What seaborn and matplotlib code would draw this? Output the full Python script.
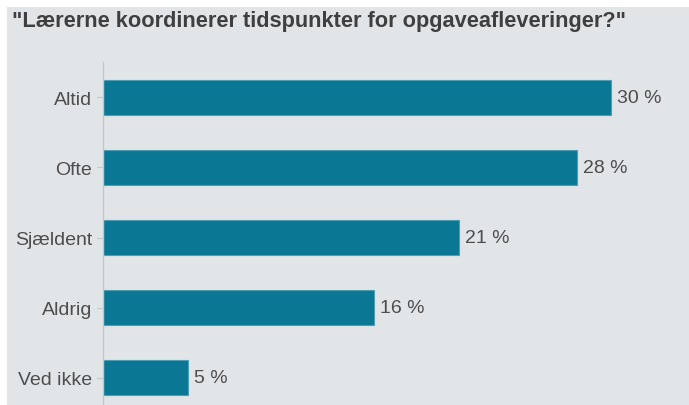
import matplotlib
matplotlib.use("Agg")
import matplotlib.pyplot as plt
from matplotlib.patches import Rectangle
import seaborn as sns
import pandas as pd

categories = ["Altid", "Ofte", "Sjældent", "Aldrig", "Ved ikke"]
values = [30, 28, 21, 16, 5]
value_labels = ["30 %", "28 %", "21 %", "16 %", "5 %"]
title = '"Lærerne koordinerer tidspunkter for opgaveafleveringer?"'

bar_color = "#0a7894"
panel_color = "#e2e5e8"
text_color = "#4d4d4d"

sns.set_theme(style="white")
plt.rcParams["font.family"] = ["Liberation Sans", "DejaVu Sans"]

W, H = 689, 406
fig = plt.figure(figsize=(W / 100, H / 100), dpi=100, facecolor="white")

# grey panel behind the chart
panel = Rectangle((7 / W, 0), 1, (H - 8) / H, transform=fig.transFigure,
                  facecolor=panel_color, edgecolor="none", zorder=-10)
fig.add_artist(panel)

ax = fig.add_axes([103 / W, 0, 1 - 103 / W, (H - 63) / H])
ax.set_facecolor("none")
ax.set_zorder(5)

df = pd.DataFrame({"kategori": categories, "andel": values})
sns.barplot(data=df, x="andel", y="kategori", orient="h", color=bar_color,
            saturation=1, width=0.5, linewidth=0.8, edgecolor="#4f9db2", ax=ax)

ax.set_xlim(0, (W - 103) / (508 / 30))
ax.set_ylim(4 + 27 / 70, -0.5)
ax.set_xlabel("")
ax.set_ylabel("")
ax.set_xticks([])
for s in ["top", "right", "bottom"]:
    ax.spines[s].set_visible(False)
ax.spines["left"].set_color("#c3c7cb")
ax.spines["left"].set_linewidth(1.0)
ax.tick_params(axis="y", which="major", left=True, length=4, width=0.8,
               color="#c3c7cb", pad=4, labelsize=14, labelcolor=text_color)

for i, (v, lab) in enumerate(zip(values, value_labels)):
    ax.annotate(lab, xy=(v, i), xytext=(4.5, 0), textcoords="offset points",
                ha="left", va="center", fontsize=14, color=text_color)

fig.text(12 / W, 1 - 22 / H, title, ha="left", va="center", fontsize=15.7,
         fontweight="bold", color="#3f3f3f", zorder=6)

fig.savefig("out.png", dpi=100, facecolor="white")
